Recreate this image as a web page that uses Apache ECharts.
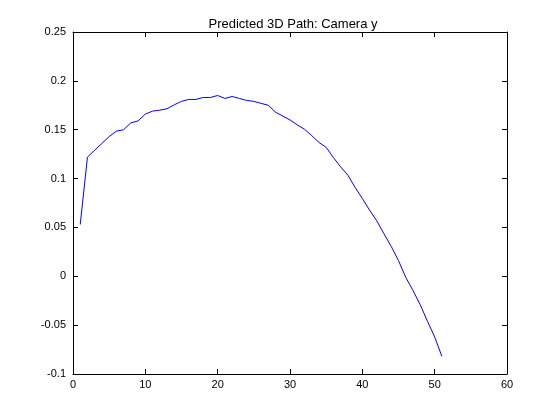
<!DOCTYPE html>
<html>
<head>
<meta charset="utf-8">
<script src="https://cdn.jsdelivr.net/npm/echarts@6/dist/echarts.min.js"></script>
<style>html,body{margin:0;padding:0;background:#fff;}#c{width:560px;height:420px;}</style>
</head>
<body>
<div id="c"></div>
<script>
var titleText = "Predicted 3D Path: Camera y";
var frameIndex = [1,2,3,4,5,6,7,8,9,10,11,12,13,14,15,16,17,18,19,20,21,22,23,24,25,26,27,28,29,30,31,32,33,34,35,36,37,38,39,40,41,42,43,44,45,46,47,48,49,50,51];
var cameraY = [0.053,0.122,0.129,0.136,0.143,0.1485,0.150,0.157,0.159,0.166,0.169,0.170,0.1715,0.1755,0.179,0.181,0.181,0.183,0.183,0.185,0.182,0.184,0.182,0.180,0.179,0.177,0.175,0.168,0.164,0.160,0.155,0.1505,0.144,0.137,0.132,0.1215,0.112,0.1035,0.091,0.0796,0.0677,0.0567,0.0434,0.0305,0.016,-0.001,-0.0145,-0.029,-0.046,-0.062,-0.082];
var xTicks = [0,10,20,30,40,50,60];
var yTicks = [-0.1,-0.05,0,0.05,0.1,0.15,0.2,0.25];

var font = "Liberation Sans, Arial, Helvetica, sans-serif";
var chart = echarts.init(document.getElementById('c'), null, {renderer:'canvas'});
function fmt(v){ return String(parseFloat(Number(v).toFixed(4))); }
var axisCommon = {
  axisLine:{show:true,onZero:false,lineStyle:{color:'#000',width:1}},
  axisTick:{show:true,inside:true,length:5,lineStyle:{color:'#000'}},
  splitLine:{show:false}
};
chart.setOption({
  animation:false,
  backgroundColor:'#fff',
  title:{text:titleText,left:288,textAlign:'center',top:13,textStyle:{fontFamily:font,fontSize:13,fontWeight:'normal',color:'#000'}},
  grid:{left:73,right:53,top:32,bottom:46,containLabel:false},
  xAxis:[
    Object.assign({type:'value',position:'bottom',min:xTicks[0],max:xTicks[xTicks.length-1],interval:10,
      axisLabel:{show:true,margin:5,color:'#000',fontFamily:font,fontSize:11,formatter:fmt}},axisCommon),
    Object.assign({type:'value',position:'top',min:xTicks[0],max:xTicks[xTicks.length-1],interval:10,
      axisLabel:{show:false}},axisCommon)
  ],
  yAxis:[
    Object.assign({type:'value',position:'left',min:yTicks[0],max:yTicks[yTicks.length-1],interval:0.05,
      axisLabel:{show:true,margin:7,color:'#000',fontFamily:font,fontSize:11,formatter:fmt}},axisCommon),
    Object.assign({type:'value',position:'right',min:yTicks[0],max:yTicks[yTicks.length-1],interval:0.05,
      axisLabel:{show:false}},axisCommon)
  ],
  series:[{
    type:'line',
    data:frameIndex.map(function(x,i){return [x,cameraY[i]];}),
    xAxisIndex:0,yAxisIndex:0,
    showSymbol:false,symbol:'none',
    lineStyle:{color:'#0000ff',width:1},
    itemStyle:{color:'#0000ff'}
  }]
});
</script>
</body>
</html>
